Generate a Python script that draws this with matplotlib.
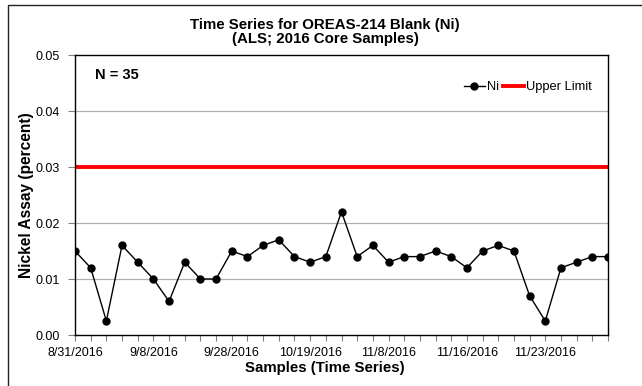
import matplotlib.pyplot as plt
from matplotlib.patches import Rectangle

plt.rcParams['font.family'] = ['Liberation Sans', 'DejaVu Sans']

# Ni assays (percent) for the 35 blank samples, in time order
ni_values = [0.015, 0.012, 0.0025, 0.016, 0.013, 0.010, 0.006, 0.013, 0.010, 0.010,
             0.015, 0.014, 0.016, 0.017, 0.014, 0.013, 0.014, 0.022, 0.014, 0.016,
             0.013, 0.014, 0.014, 0.015, 0.014, 0.012, 0.015, 0.016, 0.015, 0.007,
             0.0025, 0.012, 0.013, 0.014, 0.014]
upper_limit = 0.03
date_labels = ['8/31/2016', '9/8/2016', '9/28/2016', '10/19/2016',
               '11/8/2016', '11/16/2016', '11/23/2016']
label_step = 5

n = len(ni_values)
x = list(range(n))

W, H = 642, 386
fig = plt.figure(figsize=(W / 100, H / 100), dpi=100)
ax = fig.add_axes([75 / W, 1 - 335 / H, 533 / W, 280 / H])

# outer chart frame
fig.patches.append(Rectangle((8 / W, -0.1), 1.2, 1 - 5 / H + 0.1,
                             transform=fig.transFigure, fill=False,
                             edgecolor='#222222', linewidth=1.0))
chart_cx = (8 + W) / 2 / W

for yv in [0.01, 0.02, 0.03, 0.04]:
    ax.axhline(yv, color='#b0b0b0', linewidth=0.9, zorder=1)

ax.plot(x, [upper_limit] * n, color='#ff0000', linewidth=2.8, zorder=2,
        label='Upper Limit')
ax.plot(x, ni_values, color='black', linewidth=1.0, marker='o', markersize=5,
        zorder=3, label='Ni')

ax.set_xlim(0, n - 1)
ax.set_ylim(0, 0.05)
ax.set_yticks([0, 0.01, 0.02, 0.03, 0.04, 0.05])
ax.set_yticklabels(['0.00', '0.01', '0.02', '0.03', '0.04', '0.05'])
ax.set_xticks(x)
ax.set_xticklabels([date_labels[i // label_step] if i % label_step == 0 else ''
                    for i in x])
ax.tick_params(axis='x', length=4, width=0.8, color='#808080', labelsize=9, pad=5)
ax.tick_params(axis='y', length=5, width=0.8, color='#808080', labelsize=9, pad=6)
for s in ax.spines.values():
    s.set_linewidth(1.0)
    s.set_color('black')

ax.set_ylabel('Nickel Assay (percent)', fontsize=11.2, fontweight='bold', labelpad=1)
fig.text(chart_cx, 1 - 368 / H, 'Samples (Time Series)', fontsize=10.8,
         fontweight='bold', ha='center', va='center')
fig.text(chart_cx, 1 - 32 / H, 'Time Series for OREAS-214 Blank (Ni)\n(ALS; 2016 Core Samples)',
         fontsize=10.8, fontweight='bold', ha='center', va='center',
         multialignment='center', linespacing=0.95)

ax.text(0.037, 0.93, 'N = 35', transform=ax.transAxes, fontsize=10.5,
        fontweight='bold', va='center')

handles, labels = ax.get_legend_handles_labels()
ax.legend(handles[::-1], labels[::-1], loc='center right', ncol=2, frameon=False,
          fontsize=9.3, bbox_to_anchor=(0.98, 0.885), handlelength=1.6,
          handletextpad=0.2, columnspacing=0.3, borderaxespad=0)

fig.savefig('out.png', dpi=100)
